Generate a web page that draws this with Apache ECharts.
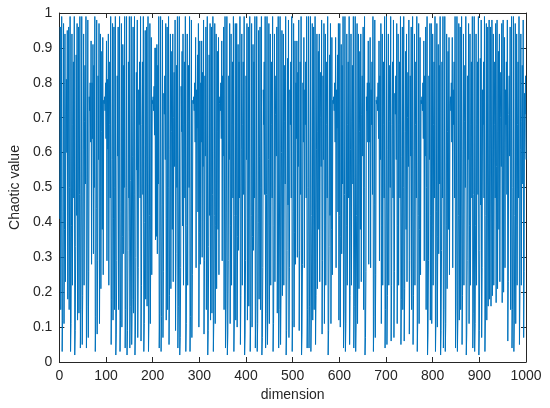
<!DOCTYPE html>
<html><head><meta charset="utf-8">
<script src="https://cdn.jsdelivr.net/npm/echarts@6/dist/echarts.min.js"></script>
<style>html,body{margin:0;padding:0;background:#fff}#c{width:550px;height:408px}</style>
</head><body><div id="c"></div>
<script>
var xTicks = [0,100,200,300,400,500,600,700,800,900,1000];
var yTicks = [0,0.1,0.2,0.3,0.4,0.5,0.6,0.7,0.8,0.9,1];
var chaoticValues = [
0.41,0.96,0.15,0.51,0.99,0.03,0.12,0.43,0.97,0.11,0.38,0.94,0.23,0.71,0.81,0.60,0.95,0.18,0.59,0.96,
0.15,0.50,0.99,0.03,0.11,0.39,0.94,0.22,0.68,0.86,0.47,0.99,0.02,0.09,0.33,0.88,0.42,0.97,0.12,0.42,
0.96,0.14,0.48,0.99,0.04,0.15,0.51,0.99,0.05,0.19,0.61,0.94,0.22,0.69,0.85,0.51,0.99,0.04,0.16,0.53,
0.98,0.07,0.26,0.76,0.72,0.80,0.63,0.92,0.28,0.80,0.64,0.91,0.31,0.85,0.50,0.99,0.03,0.13,0.44,0.98,
0.08,0.29,0.82,0.58,0.97,0.11,0.39,0.94,0.21,0.66,0.89,0.38,0.93,0.25,0.75,0.74,0.76,0.72,0.80,0.64,
0.92,0.29,0.81,0.61,0.94,0.22,0.68,0.86,0.47,0.99,0.05,0.18,0.58,0.97,0.12,0.41,0.96,0.15,0.50,0.99,
0.02,0.08,0.29,0.82,0.59,0.96,0.15,0.51,0.99,0.03,0.12,0.43,0.97,0.10,0.36,0.91,0.31,0.85,0.50,0.99,
0.04,0.15,0.50,0.99,0.02,0.09,0.32,0.86,0.47,0.99,0.04,0.16,0.52,0.99,0.05,0.18,0.59,0.96,0.14,0.48,
0.99,0.02,0.08,0.30,0.83,0.55,0.98,0.07,0.27,0.78,0.68,0.86,0.47,0.99,0.06,0.22,0.68,0.86,0.48,0.99,
0.03,0.11,0.40,0.95,0.18,0.59,0.96,0.16,0.53,0.99,0.03,0.12,0.42,0.97,0.11,0.38,0.93,0.25,0.75,0.74,
0.76,0.72,0.79,0.65,0.90,0.35,0.90,0.36,0.91,0.31,0.85,0.51,0.99,0.04,0.14,0.49,0.99,0.03,0.13,0.45,
0.98,0.07,0.26,0.77,0.71,0.82,0.58,0.97,0.12,0.41,0.96,0.15,0.50,0.99,0.05,0.19,0.61,0.94,0.21,0.66,
0.89,0.38,0.94,0.23,0.70,0.83,0.56,0.98,0.09,0.31,0.85,0.50,0.99,0.04,0.16,0.53,0.99,0.02,0.07,0.27,
0.79,0.66,0.89,0.39,0.94,0.22,0.68,0.86,0.47,0.99,0.03,0.11,0.39,0.94,0.22,0.69,0.85,0.50,0.99,0.03,
0.13,0.45,0.98,0.07,0.25,0.75,0.74,0.76,0.72,0.80,0.63,0.93,0.27,0.78,0.67,0.88,0.43,0.97,0.10,0.37,
0.92,0.28,0.80,0.63,0.92,0.30,0.83,0.56,0.98,0.08,0.29,0.82,0.59,0.96,0.15,0.51,0.99,0.02,0.09,0.33,
0.88,0.42,0.97,0.12,0.42,0.96,0.14,0.48,0.99,0.03,0.12,0.42,0.97,0.11,0.39,0.94,0.21,0.66,0.89,0.38,
0.93,0.25,0.74,0.76,0.72,0.80,0.64,0.92,0.29,0.82,0.59,0.96,0.15,0.51,0.99,0.04,0.15,0.51,0.99,0.02,
0.08,0.29,0.82,0.58,0.97,0.11,0.39,0.94,0.22,0.68,0.86,0.47,0.99,0.03,0.12,0.42,0.97,0.12,0.42,0.97,
0.10,0.36,0.91,0.32,0.86,0.47,0.99,0.05,0.19,0.61,0.94,0.22,0.68,0.86,0.48,0.99,0.02,0.08,0.29,0.82,
0.58,0.97,0.12,0.41,0.96,0.16,0.53,0.99,0.03,0.12,0.42,0.97,0.10,0.36,0.91,0.32,0.86,0.47,0.99,0.04,
0.16,0.53,0.99,0.03,0.11,0.40,0.95,0.18,0.59,0.96,0.15,0.50,0.99,0.02,0.07,0.27,0.78,0.68,0.86,0.48,
0.99,0.04,0.14,0.48,0.99,0.05,0.18,0.58,0.97,0.11,0.39,0.94,0.22,0.68,0.86,0.47,0.99,0.03,0.11,0.39,
0.94,0.23,0.71,0.82,0.59,0.96,0.14,0.49,0.99,0.04,0.15,0.51,0.99,0.05,0.19,0.60,0.95,0.19,0.61,0.94,
0.22,0.69,0.85,0.51,0.99,0.02,0.09,0.32,0.87,0.45,0.98,0.07,0.27,0.78,0.68,0.86,0.47,0.99,0.03,0.12,
0.43,0.97,0.10,0.37,0.92,0.28,0.80,0.64,0.92,0.30,0.83,0.56,0.98,0.09,0.32,0.86,0.48,0.99,0.02,0.08,
0.28,0.80,0.63,0.93,0.27,0.78,0.68,0.86,0.47,0.99,0.04,0.15,0.50,0.99,0.04,0.16,0.53,0.99,0.03,0.12,
0.42,0.97,0.12,0.41,0.96,0.15,0.51,0.99,0.05,0.19,0.61,0.94,0.21,0.66,0.89,0.38,0.94,0.23,0.70,0.83,
0.56,0.98,0.08,0.29,0.82,0.58,0.97,0.11,0.39,0.94,0.22,0.68,0.86,0.47,0.99,0.02,0.09,0.33,0.88,0.42,
0.97,0.11,0.38,0.93,0.25,0.75,0.74,0.76,0.72,0.80,0.63,0.93,0.27,0.78,0.67,0.88,0.43,0.97,0.12,0.42,
0.97,0.10,0.36,0.91,0.31,0.85,0.51,0.99,0.04,0.14,0.48,0.99,0.03,0.11,0.39,0.94,0.22,0.68,0.86,0.47,
0.99,0.05,0.19,0.61,0.94,0.22,0.69,0.85,0.51,0.99,0.04,0.16,0.53,0.99,0.03,0.12,0.42,0.97,0.11,0.39,
0.94,0.21,0.66,0.89,0.38,0.94,0.23,0.71,0.82,0.59,0.96,0.15,0.50,0.99,0.02,0.07,0.26,0.76,0.72,0.80,
0.63,0.92,0.28,0.80,0.63,0.93,0.27,0.78,0.68,0.86,0.48,0.99,0.03,0.13,0.45,0.98,0.07,0.25,0.75,0.74,
0.76,0.72,0.80,0.64,0.92,0.29,0.82,0.58,0.97,0.11,0.39,0.94,0.22,0.68,0.86,0.47,0.99,0.04,0.15,0.51,
0.99,0.05,0.19,0.61,0.94,0.22,0.69,0.85,0.50,0.99,0.06,0.22,0.68,0.86,0.47,0.98,0.07,0.26,0.77,0.71,
0.82,0.58,0.97,0.11,0.39,0.94,0.22,0.68,0.86,0.47,0.99,0.05,0.18,0.59,0.96,0.15,0.50,0.99,0.06,0.21,
0.66,0.89,0.38,0.94,0.23,0.70,0.83,0.56,0.98,0.08,0.29,0.82,0.59,0.96,0.15,0.51,0.99,0.05,0.19,0.61,
0.94,0.22,0.68,0.86,0.47,0.99,0.03,0.12,0.42,0.97,0.11,0.38,0.93,0.25,0.75,0.74,0.76,0.72,0.80,0.64,
0.92,0.29,0.82,0.59,0.96,0.15,0.50,0.99,0.02,0.08,0.29,0.82,0.58,0.97,0.12,0.42,0.97,0.11,0.39,0.94,
0.22,0.68,0.86,0.47,0.99,0.03,0.12,0.43,0.97,0.10,0.36,0.91,0.31,0.85,0.51,0.99,0.02,0.09,0.32,0.86,
0.47,0.99,0.04,0.15,0.51,0.99,0.03,0.11,0.39,0.94,0.21,0.66,0.89,0.38,0.93,0.25,0.74,0.76,0.72,0.80,
0.63,0.93,0.27,0.78,0.68,0.86,0.47,0.99,0.04,0.16,0.53,0.99,0.03,0.12,0.42,0.97,0.12,0.41,0.96,0.15,
0.51,0.99,0.05,0.19,0.61,0.94,0.22,0.69,0.85,0.50,0.99,0.02,0.08,0.29,0.82,0.58,0.97,0.11,0.39,0.94,
0.22,0.68,0.86,0.47,0.99,0.04,0.14,0.48,0.99,0.03,0.11,0.39,0.94,0.22,0.68,0.86,0.48,0.99,0.02,0.09,
0.32,0.87,0.45,0.98,0.07,0.27,0.78,0.68,0.86,0.47,0.99,0.03,0.12,0.42,0.97,0.12,0.41,0.96,0.16,0.53,
0.98,0.18,0.59,0.96,0.16,0.53,0.98,0.19,0.61,0.94,0.22,0.68,0.86,0.47,0.97,0.17,0.56,0.98,0.21,0.66,
0.89,0.38,0.94,0.23,0.70,0.83,0.56,0.97,0.17,0.55,0.98,0.20,0.63,0.93,0.27,0.78,0.68,0.86,0.48,0.98,
0.06,0.23,0.71,0.82,0.59,0.96,0.15,0.51,0.99,0.04,0.15,0.50,0.99,0.03,0.12,0.42,0.97,0.11,0.39,0.94,
0.22,0.68,0.86,0.47,0.99,0.05,0.19,0.61,0.94,0.22,0.69,0.85,0.51,0.98,0.07,0.26,0.77,0.71,0.82,0.58
];
var xName = 'dimension';
var yName = 'Chaotic value';

var seriesData = chaoticValues.map(function (v, i) { return [i + 1, v]; });
var axisColor = '#262626';
var font = 'Liberation Sans, Arial, sans-serif';
var chart = echarts.init(document.getElementById('c'), null, {renderer: 'canvas'});
var tickCommon = {show: true, inside: true, length: 5, lineStyle: {color: axisColor, width: 1}};
chart.setOption({
  animation: false,
  backgroundColor: '#ffffff',
  grid: {left: 55.5, right: 24, top: 13, bottom: 46, containLabel: false},
  xAxis: [{
    type: 'value', min: xTicks[0], max: xTicks[xTicks.length - 1], interval: 100,
    name: xName, nameLocation: 'middle', nameGap: 26,
    nameTextStyle: {color: axisColor, fontSize: 14, fontFamily: font},
    axisLine: {show: true, onZero: false, lineStyle: {color: axisColor, width: 1}},
    axisTick: tickCommon,
    axisLabel: {color: axisColor, fontSize: 14, fontFamily: font, margin: 7,
      formatter: function (v) { return String(v); }},
    splitLine: {show: false}
  }, {
    type: 'value', position: 'top', min: xTicks[0], max: xTicks[xTicks.length - 1], interval: 100,
    axisLine: {show: true, onZero: false, lineStyle: {color: axisColor, width: 1}},
    axisTick: tickCommon, axisLabel: {show: false}, splitLine: {show: false}
  }],
  yAxis: [{
    type: 'value', min: yTicks[0], max: yTicks[yTicks.length - 1], interval: 0.1,
    name: yName, nameLocation: 'middle', nameGap: 34, nameRotate: 90,
    nameTextStyle: {color: axisColor, fontSize: 14, fontFamily: font},
    axisLine: {show: true, onZero: false, lineStyle: {color: axisColor, width: 1}},
    axisTick: tickCommon,
    axisLabel: {color: axisColor, fontSize: 14, fontFamily: font, margin: 7,
      formatter: function (v) { return String(Math.round(v * 10) / 10); }},
    splitLine: {show: false}
  }, {
    type: 'value', position: 'right', min: yTicks[0], max: yTicks[yTicks.length - 1], interval: 0.1,
    axisLine: {show: true, onZero: false, lineStyle: {color: axisColor, width: 1}},
    axisTick: tickCommon, axisLabel: {show: false}, splitLine: {show: false}
  }],
  series: [{
    type: 'line', xAxisIndex: 0, yAxisIndex: 0, data: seriesData,
    showSymbol: false, symbol: 'none',
    lineStyle: {color: '#0072BD', width: 1}, silent: true
  }]
});
</script></body></html>
